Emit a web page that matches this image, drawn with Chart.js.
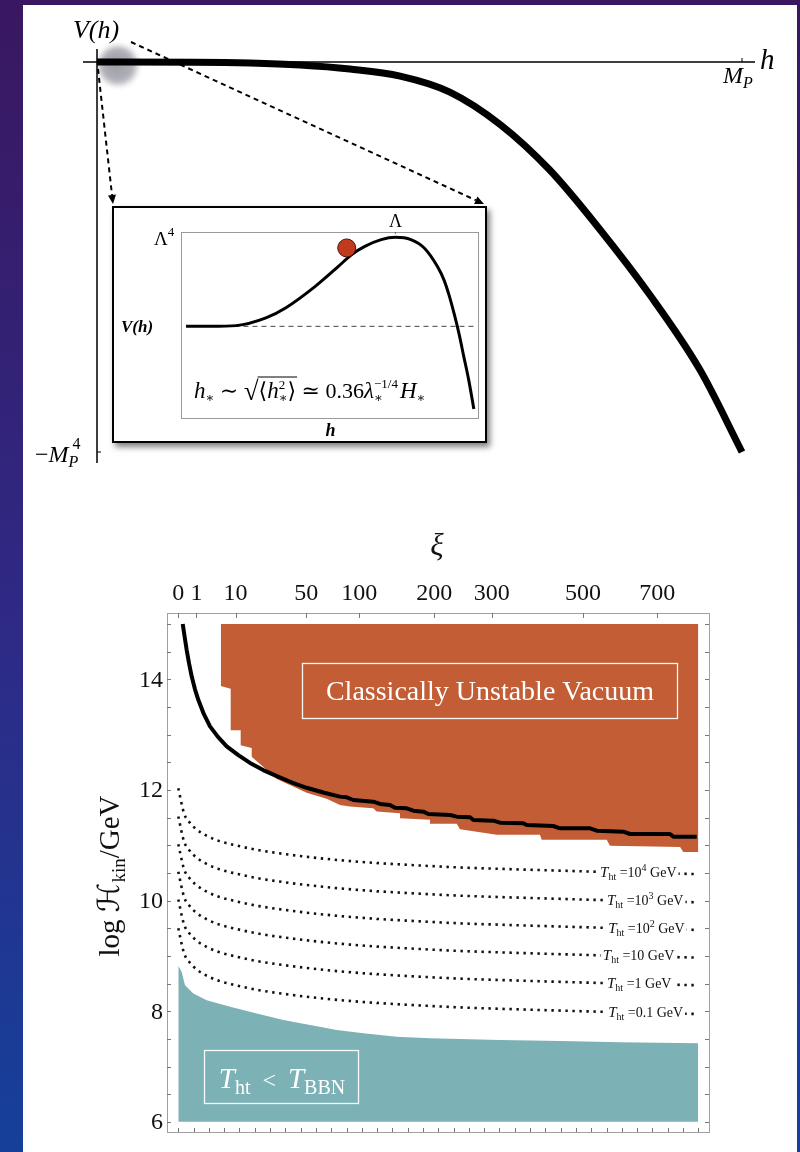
<!DOCTYPE html>
<html>
<head>
<meta charset="utf-8">
<script src="https://cdn.jsdelivr.net/npm/chart.js@4.4.1/dist/chart.umd.min.js"></script>
<style>
  html, body { margin: 0; padding: 0; }
  body {
    width: 800px; height: 1152px; position: relative; overflow: hidden;
    background: linear-gradient(180deg, #3a1760 0%, #2e2a86 55%, #15409a 100%);
  }
  #panel { position: absolute; left: 23px; top: 5px; width: 774px; height: 1147px; background: #fff; }
  canvas { position: absolute; }
  #topPlot { left: 0; top: 0; }
  #insetBox {
    position: absolute; left: 112px; top: 206px; width: 371px; height: 233px;
    border: 2.5px solid #000; background: #fff; box-shadow: 3px 4px 6px rgba(0,0,0,0.5);
  }
  #insetPlot { left: 112px; top: 206px; }
  #mainPlot { left: 0; top: 500px; }
</style>
</head>
<body>
<div id="panel"></div>
<canvas id="topPlot" width="800" height="480"></canvas>
<div id="insetBox"></div>
<canvas id="insetPlot" width="376" height="238"></canvas>
<canvas id="mainPlot" width="800" height="652"></canvas>

<script>
// ---------------- potential sketch: h in units of M_P, V in units of M_P^4 ----------------
const potH = [0, 0.15, 0.237, 0.315, 0.392, 0.47, 0.547, 0.625, 0.702, 0.78, 0.857, 0.935, 1.0];
const potV = [0, -0.0005, -0.0026, -0.0077, -0.018, -0.036, -0.077, -0.16, -0.277, -0.43, -0.597, -0.79, -1.0];

// ---------------- zoomed-in barrier (h / h_max, V / Λ^4) ----------------
const barH = [0.017, 0.10, 0.186, 0.286, 0.352, 0.452, 0.53, 0.574, 0.619, 0.674, 0.722, 0.774, 0.819, 0.863, 0.886, 0.902, 0.919, 0.936, 0.952, 0.969, 0.986];
const barV = [0, 0, 0.008, 0.094, 0.206, 0.449, 0.674, 0.805, 0.898, 0.974, 1.0, 0.974, 0.88, 0.674, 0.517, 0.356, 0.15, -0.082, -0.337, -0.607, -0.93];
const ballH = [0.558];
const ballV = [0.881];

// ---------------- parameter space: ξ vs log H_kin/GeV ----------------
const xiTicks = [0, 1, 10, 50, 100, 200, 300, 500, 700];
const logHLabels = [6, 8, 10, 12, 14];

// stability boundary (solid black)
const boundXi = [0.06, 0.12, 0.215, 0.36, 0.55, 0.85, 1.22, 2.0, 3.07, 4.8, 7.15, 11, 15.7, 22, 29.6, 40, 50.3, 65, 79.8,
  86.6, 93.5, 116, 124.2, 136.8, 143.3, 159.2, 168.6, 183.2, 190.8, 225.3, 236.6, 259.8, 265.7, 302.9, 315.8,
  363.3, 370.5, 429.2, 444.7, 517.4, 534.3, 604.5, 622.8, 738.0, 747.9, 820.3];
const boundLogH = [15.0, 14.78, 14.53, 14.28, 14.05, 13.82, 13.63, 13.37, 13.15, 12.96, 12.79, 12.63, 12.49, 12.36, 12.25, 12.13, 12.04, 11.95, 11.88,
  11.868, 11.819, 11.789, 11.747, 11.729, 11.68, 11.669, 11.626, 11.608, 11.566, 11.548, 11.518, 11.506, 11.458, 11.445, 11.409,
  11.398, 11.367, 11.349, 11.307, 11.307, 11.264, 11.246, 11.204, 11.204, 11.156, 11.156];

// classically unstable region: lower edge (filled up to log H = 15)
const unstXi = [5.5, 5.5, 8.38, 8.38, 11.88, 11.88, 16.45, 16.45, 20.4, 29.6, 50.3, 67.2, 79.8, 89.8, 116, 120.2, 150, 150,
  193.4, 193.4, 236.6, 242.2, 309.5, 399.3, 403.1, 560.2, 569, 768.5, 778.4, 825.4];
const unstLogH = [15, 13.88, 13.83, 13.08, 13.08, 12.81, 12.76, 12.60, 12.47, 12.2, 11.95, 11.84, 11.73, 11.70, 11.67, 11.61, 11.58, 11.49,
  11.46, 11.39, 11.39, 11.29, 11.19, 11.19, 11.10, 11.10, 10.99, 10.97, 10.88, 10.88];

// T_ht < T_BBN region: upper edge (filled down to log H = 6)
const bbnXi = [0, 0.035, 0.137, 0.69, 2.46, 8.2, 18.8, 33.7, 53, 76.6, 104.5, 145.6, 193.4, 316, 445, 595, 825];
const bbnLogH = [8.82, 8.71, 8.47, 8.32, 8.2, 8.08, 7.96, 7.84, 7.75, 7.66, 7.6, 7.54, 7.51, 7.48, 7.46, 7.44, 7.42];

// constant heating-temperature contours
const contourXi = [0, 0.1, 0.4, 1, 2.5, 5, 10, 20, 35, 55, 80, 120, 170, 240, 330, 450, 600, 820];
const tht1e4 = [12.03, 11.58, 11.41, 11.29, 11.17, 11.08, 11.0, 10.91, 10.84, 10.78, 10.73, 10.68, 10.64, 10.60, 10.57, 10.54, 10.51, 10.48];
const tht1e3 = [11.52, 11.07, 10.90, 10.78, 10.66, 10.57, 10.49, 10.40, 10.33, 10.27, 10.22, 10.17, 10.13, 10.09, 10.06, 10.03, 10.00, 9.97];
const tht1e2 = [11.02, 10.57, 10.40, 10.28, 10.16, 10.07, 9.99, 9.90, 9.83, 9.77, 9.72, 9.67, 9.63, 9.59, 9.56, 9.53, 9.50, 9.47];
const tht1e1 = [10.52, 10.07, 9.90, 9.78, 9.66, 9.57, 9.49, 9.40, 9.33, 9.27, 9.22, 9.17, 9.13, 9.09, 9.06, 9.03, 9.00, 8.97];
const tht1e0 = [10.02, 9.57, 9.40, 9.28, 9.16, 9.07, 8.99, 8.90, 8.83, 8.77, 8.72, 8.67, 8.63, 8.59, 8.56, 8.53, 8.50, 8.47];
const tht1em1 = [9.50, 9.05, 8.88, 8.76, 8.64, 8.55, 8.47, 8.38, 8.31, 8.25, 8.20, 8.15, 8.11, 8.07, 8.04, 8.01, 7.98, 7.95];
const contourBase = ['10', '10', '10', '10', '1', '0.1'];
const contourExp = ['4', '3', '2', '', '', ''];
const contourLabelXi = [543, 561, 564, 550, 561, 564];

// ---------------- helpers ----------------
const FAM = '"Liberation Serif","DejaVu Serif","DejaVu Sans",serif';
const fnt = (size, style) => (style ? style + ' ' : '') + size + 'px ' + FAM;

function measure(ctx, parts) {
  let w = 0;
  for (const p of parts) { ctx.font = p.f; w += (p.adv !== undefined ? p.adv : ctx.measureText(p.t).width); }
  return w;
}
function rich(ctx, x, y, parts, align) {
  const w = measure(ctx, parts);
  let cx = align === 'center' ? x - w / 2 : align === 'right' ? x - w : x;
  const start = cx;
  for (const p of parts) {
    ctx.font = p.f;
    ctx.fillText(p.t, cx, y + (p.dy || 0));
    cx += (p.adv !== undefined ? p.adv : ctx.measureText(p.t).width);
  }
  return { x0: start, x1: cx, w };
}
function arrowLine(ctx, x0, y0, x1, y1) {
  ctx.save();
  ctx.setLineDash([5, 4]);
  ctx.lineWidth = 2;
  ctx.strokeStyle = '#000';
  const a = Math.atan2(y1 - y0, x1 - x0);
  const L = 9;
  ctx.beginPath(); ctx.moveTo(x0, y0); ctx.lineTo(x1 - L * Math.cos(a), y1 - L * Math.sin(a)); ctx.stroke();
  ctx.setLineDash([]);
  ctx.fillStyle = '#000';
  ctx.beginPath();
  ctx.moveTo(x1, y1);
  ctx.lineTo(x1 - L * Math.cos(a) + 4 * Math.sin(a), y1 - L * Math.sin(a) - 4 * Math.cos(a));
  ctx.lineTo(x1 - L * Math.cos(a) - 4 * Math.sin(a), y1 - L * Math.sin(a) + 4 * Math.cos(a));
  ctx.closePath(); ctx.fill();
  ctx.restore();
}
const pts = (xs, ys, fx) => xs.map((v, i) => ({ x: fx ? fx(v) : v, y: ys[i] }));
const baseOpts = {
  responsive: false, animation: false, events: [],
  plugins: { legend: { display: false }, tooltip: { enabled: false } }
};

// ---------------- top sketch ----------------
const topDecor = {
  id: 'topDecor',
  beforeDatasetsDraw(chart) {
    const { ctx, scales: { x, y } } = chart;
    const x0 = x.getPixelForValue(0), y0 = y.getPixelForValue(0);
    const xM = x.getPixelForValue(1), yM = y.getPixelForValue(-1);
    // soft grey spot marking the zoomed region
    const cx = x.getPixelForValue(0.033), cy = y.getPixelForValue(-0.01);
    ctx.save();
    ctx.filter = 'blur(2.5px)';
    const g = ctx.createRadialGradient(cx - 3, cy - 3, 2, cx, cy, 22);
    g.addColorStop(0, 'rgba(150,150,158,0.95)');
    g.addColorStop(0.75, 'rgba(165,165,175,0.85)');
    g.addColorStop(1, 'rgba(200,200,210,0)');
    ctx.fillStyle = g;
    ctx.beginPath(); ctx.arc(cx, cy, 22, 0, Math.PI * 2); ctx.fill();
    ctx.restore();
    // axes
    ctx.save();
    ctx.strokeStyle = '#000'; ctx.lineWidth = 1.5;
    ctx.beginPath();
    ctx.moveTo(x0 - 14, y0); ctx.lineTo(xM + 13, y0);
    ctx.moveTo(x0, y0 - 13); ctx.lineTo(x0, yM + 11);
    ctx.stroke();
    ctx.lineWidth = 1;
    ctx.beginPath();
    ctx.moveTo(xM, y0); ctx.lineTo(xM, y0 - 4);
    ctx.moveTo(x0, yM); ctx.lineTo(x0 + 4, yM);
    ctx.stroke();
    ctx.restore();
  },
  afterDatasetsDraw(chart) {
    const { ctx, scales: { x, y } } = chart;
    const x0 = x.getPixelForValue(0), y0 = y.getPixelForValue(0);
    const xM = x.getPixelForValue(1), yM = y.getPixelForValue(-1);
    arrowLine(ctx, x0 + 1, y0 + 7, 113, 204);
    arrowLine(ctx, x0 + 34, y0 - 20, 484, 204);
    ctx.save();
    ctx.fillStyle = '#000';
    ctx.textBaseline = 'alphabetic';
    rich(ctx, x0 - 1, 38, [{ t: 'V(h)', f: fnt(26, 'italic') }], 'center');
    rich(ctx, xM + 18, 69, [{ t: 'h', f: fnt(29, 'italic') }], 'left');
    rich(ctx, xM - 19, 83, [{ t: 'M', f: fnt(24, 'italic') }, { t: 'P', f: fnt(16, 'italic'), dy: 5 }], 'left');
    // −M_P^4
    const r = rich(ctx, x0 - 62, yM + 10, [{ t: '−', f: fnt(24) }, { t: 'M', f: fnt(24, 'italic') }], 'left');
    rich(ctx, r.x1, yM + 15, [{ t: 'P', f: fnt(16, 'italic') }], 'left');
    rich(ctx, r.x1 + 4, yM - 3, [{ t: '4', f: fnt(16) }], 'left');
    ctx.restore();
  }
};

new Chart(document.getElementById('topPlot'), {
  type: 'line',
  data: {
    datasets: [{
      data: pts(potH, potV), borderColor: '#000', borderWidth: 7, pointRadius: 0,
      cubicInterpolationMode: 'monotone', fill: false, clip: false
    }]
  },
  options: Object.assign({}, baseOpts, {
    layout: { padding: { left: 97, top: 62, right: 58, bottom: 28 } },
    scales: {
      x: { type: 'linear', min: 0, max: 1, display: false },
      y: { type: 'linear', min: -1, max: 0, display: false }
    }
  }),
  plugins: [topDecor]
});

// ---------------- inset ----------------
const insetDecor = {
  id: 'insetDecor',
  beforeDatasetsDraw(chart) {
    const { ctx, chartArea: a } = chart;
    ctx.save();
    ctx.strokeStyle = '#9a9a9a'; ctx.lineWidth = 1;
    ctx.strokeRect(a.left + 0.5, a.top + 0.5, a.right - a.left, a.bottom - a.top);
    ctx.restore();
  },
  afterDatasetsDraw(chart) {
    const { ctx, chartArea: a, scales: { x, y } } = chart;
    ctx.save();
    ctx.fillStyle = '#000';
    const xPeak = x.getPixelForValue(0.722);
    ctx.strokeStyle = '#666'; ctx.lineWidth = 1;
    ctx.beginPath(); ctx.moveTo(xPeak, a.top); ctx.lineTo(xPeak, a.top + 2); ctx.stroke();
    rich(ctx, xPeak, a.top - 5, [{ t: 'Λ', f: fnt(18) }], 'center');
    const rl = rich(ctx, a.left - 27, a.top + 13, [{ t: 'Λ', f: fnt(19) }], 'left');
    rich(ctx, rl.x1, a.top + 4, [{ t: '4', f: fnt(13) }], 'left');
    const y0 = y.getPixelForValue(0);
    rich(ctx, a.left - 44, y0 + 6, [{ t: 'V(h)', f: fnt(17, 'bold italic') }], 'center');
    rich(ctx, (a.left + a.right) / 2 + 1, a.bottom + 18, [{ t: 'h', f: fnt(18, 'bold italic') }], 'center');
    // h_* ~ sqrt(<h_*^2>) ≃ 0.36 λ_*^{-1/4} H_*
    const by = a.bottom - 20;
    const px = a.left + 13;
    let r = rich(ctx, px, by, [{ t: 'h', f: fnt(23, 'italic') }, { t: '∗', f: fnt(13), dy: 4 }, { t: ' ∼ ', f: fnt(22) }], 'left');
    r = rich(ctx, r.x1, by + 2, [{ t: '√', f: fnt(27) }], 'left');
    const ovStart = r.x1 - 1;
    r = rich(ctx, r.x1, by, [{ t: '⟨', f: fnt(22) }, { t: 'h', f: fnt(23, 'italic') }, { t: '2', f: fnt(13), dy: -9, adv: 0 }, { t: '∗', f: fnt(13), dy: 4 }, { t: '⟩', f: fnt(22) }], 'left');
    ctx.lineWidth = 1; ctx.strokeStyle = '#000';
    ctx.beginPath(); ctx.moveTo(ovStart, by - 21); ctx.lineTo(r.x1 + 1, by - 21); ctx.stroke();
    ctx.font = fnt(13);
    const wq = ctx.measureText('−1/4').width;
    rich(ctx, r.x1, by, [{ t: ' ≃ 0.36', f: fnt(22) }, { t: 'λ', f: fnt(23, 'italic') }, { t: '−1/4', f: fnt(13), dy: -10, adv: 0 }, { t: '∗', f: fnt(13), dy: 4, adv: wq + 2 }, { t: 'H', f: fnt(23, 'italic') }, { t: '∗', f: fnt(13), dy: 4 }], 'left');
    ctx.restore();
  }
};

new Chart(document.getElementById('insetPlot'), {
  type: 'line',
  data: {
    datasets: [
      { data: pts(ballH, ballV), showLine: false, pointRadius: 9, backgroundColor: '#c23a1e', borderColor: '#4a1208', borderWidth: 1, clip: false },
      { data: pts(barH, barV), borderColor: '#000', borderWidth: 3, pointRadius: 0, cubicInterpolationMode: 'monotone', clip: false, fill: false },
      { data: [{ x: 0.18, y: 0 }, { x: 0.99, y: 0 }], borderColor: '#444', borderWidth: 1, borderDash: [5, 4], pointRadius: 0, fill: false }
    ]
  },
  options: Object.assign({}, baseOpts, {
    layout: { padding: { left: 69, top: 26, right: 7, bottom: 26 } },
    scales: {
      x: { type: 'linear', min: 0, max: 1, display: false },
      y: { type: 'linear', min: -1.03, max: 1.06, display: false }
    }
  }),
  plugins: [insetDecor]
});

// ---------------- parameter-space plot (x axis linear in sqrt ξ) ----------------
const sq = v => Math.sqrt(v);
const contourSets = [tht1e4, tht1e3, tht1e2, tht1e1, tht1e0, tht1em1];

function interp(xs, ys, v) {
  for (let i = 1; i < xs.length; i++) {
    if (v <= xs[i]) { const t = (v - xs[i - 1]) / (xs[i] - xs[i - 1]); return ys[i - 1] + t * (ys[i] - ys[i - 1]); }
  }
  return ys[ys.length - 1];
}

const frameAxes = {
  id: 'frameAxes',
  afterDatasetsDraw(chart) {
    const { ctx, chartArea: a, scales } = chart;
    const xs = scales.x, ys = scales.y, xb = scales.xb;
    ctx.save();
    // contour labels with white backing
    contourSets.forEach((set, i) => {
      const lx = xs.getPixelForValue(sq(contourLabelXi[i]));
      const ly = ys.getPixelForValue(interp(contourXi, set, contourLabelXi[i]));
      const parts = [{ t: 'T', f: fnt(15, 'italic') }, { t: 'ht', f: fnt(10), dy: 3 }, { t: ' =' + contourBase[i], f: fnt(14) }];
      if (contourExp[i]) parts.push({ t: contourExp[i], f: fnt(10), dy: -6 });
      parts.push({ t: ' GeV', f: fnt(14) });
      const w = measure(ctx, parts);
      ctx.fillStyle = '#fff';
      ctx.fillRect(lx - 2, ly - 9, w + 4, 18);
      ctx.fillStyle = '#111';
      ctx.textBaseline = 'alphabetic';
      rich(ctx, lx, ly + 5, parts, 'left');
    });
    // frame
    ctx.strokeStyle = '#a0a0a0'; ctx.lineWidth = 1;
    ctx.strokeRect(Math.round(a.left) + 0.5, Math.round(a.top) + 0.5, a.right - a.left, a.bottom - a.top);
    ctx.strokeStyle = '#777';
    ctx.beginPath();
    xiTicks.forEach(v => { const p = Math.round(xs.getPixelForValue(sq(v))) + 0.5; ctx.moveTo(p, a.top); ctx.lineTo(p, a.top + 5); });
    for (let k = 0; k <= 34; k++) { const p = Math.round(xb.getPixelForValue(k)) + 0.5; ctx.moveTo(p, a.bottom); ctx.lineTo(p, a.bottom - 4); }
    for (let v = 6; v <= 15.001; v += 0.5) {
      const p = Math.round(ys.getPixelForValue(v)) + 0.5;
      ctx.moveTo(a.left, p); ctx.lineTo(a.left + 4, p);
      ctx.moveTo(a.right, p); ctx.lineTo(a.right - 4, p);
    }
    ctx.stroke();
    // tick labels
    ctx.fillStyle = '#111';
    ctx.font = fnt(24);
    ctx.textAlign = 'center'; ctx.textBaseline = 'alphabetic';
    xiTicks.forEach(v => ctx.fillText(String(v), xs.getPixelForValue(sq(v)), a.top - 13));
    ctx.textAlign = 'right'; ctx.textBaseline = 'middle';
    logHLabels.forEach(v => ctx.fillText(String(v), a.left - 4, ys.getPixelForValue(v) + 1));
    ctx.textAlign = 'left'; ctx.textBaseline = 'alphabetic';
    // axis titles
    rich(ctx, 437, 55, [{ t: 'ξ', f: fnt(31, 'italic') }], 'center');
    ctx.save();
    ctx.translate(119, 376);
    ctx.rotate(-Math.PI / 2);
    rich(ctx, 0, 0, [{ t: 'log ', f: fnt(29) }, { t: 'ℋ', f: fnt(30, 'italic') }, { t: 'kin', f: fnt(19), dy: 6 }, { t: '/GeV', f: fnt(29) }], 'center');
    ctx.restore();
    // region labels
    ctx.strokeStyle = 'rgba(255,255,255,0.95)'; ctx.lineWidth = 1.3;
    ctx.strokeRect(302.5, 163.5, 375, 55);
    ctx.fillStyle = '#fff';
    rich(ctx, 490, 200, [{ t: 'Classically Unstable Vacuum', f: fnt(28) }], 'center');
    ctx.strokeRect(204.5, 550.5, 154, 53);
    rich(ctx, 282, 588, [{ t: 'T', f: fnt(29, 'italic') }, { t: 'ht', f: fnt(20), dy: 6 }, { t: '  <  ', f: fnt(24) }, { t: 'T', f: fnt(29, 'italic') }, { t: 'BBN', f: fnt(20), dy: 6 }], 'center');
    ctx.restore();
  }
};

const contourDs = contourSets.map(set => ({
  data: pts(contourXi, set, sq), borderColor: '#111', borderWidth: 2.6, borderDash: [2.4, 4.6],
  borderCapStyle: 'butt', pointRadius: 0, cubicInterpolationMode: 'monotone', fill: false
}));

new Chart(document.getElementById('mainPlot'), {
  type: 'line',
  data: {
    datasets: [
      { data: pts(boundXi, boundLogH, sq), borderColor: '#000', borderWidth: 4, pointRadius: 0, tension: 0, fill: false, borderJoinStyle: 'round' },
      ...contourDs,
      { data: pts(unstXi, unstLogH, sq), borderWidth: 0, borderColor: 'rgba(0,0,0,0)', pointRadius: 0, tension: 0, backgroundColor: '#c25d35', fill: { value: 15 } },
      { data: pts(bbnXi, bbnLogH, sq), borderWidth: 0, borderColor: 'rgba(0,0,0,0)', pointRadius: 0, tension: 0, backgroundColor: '#7cb1b5', fill: { value: 6 } }
    ]
  },
  options: Object.assign({}, baseOpts, {
    layout: { padding: { left: 167, top: 113, right: 91, bottom: 20 } },
    scales: {
      x: { type: 'linear', min: -0.624, max: 29.32, display: false },
      xb: { type: 'linear', axis: 'x', min: -0.739, max: 34.70, display: false },
      y: { type: 'linear', min: 5.816, max: 15.2, display: false }
    }
  }),
  plugins: [frameAxes]
});
</script>
</body>
</html>
